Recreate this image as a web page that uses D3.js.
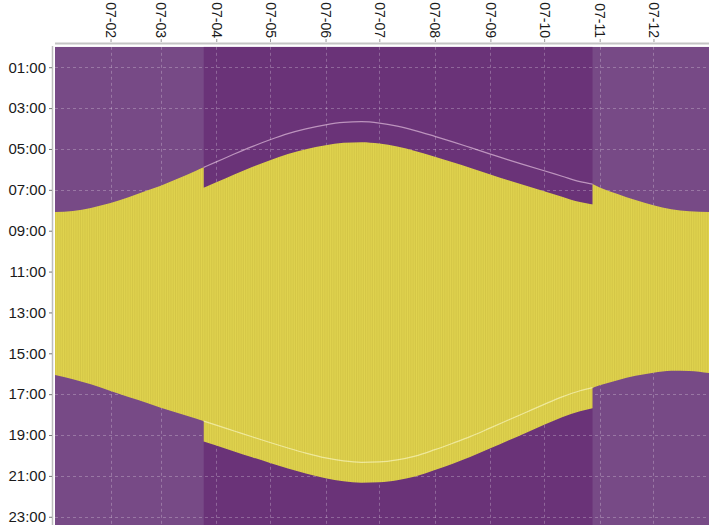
<!DOCTYPE html>
<html><head><meta charset="utf-8">
<script src="https://cdn.jsdelivr.net/npm/d3@7"></script>
<style>body{margin:0;background:#fff}svg{display:block}</style>
</head><body><svg id="c" width="720" height="525"></svg>
<script>
// ---- data (standard time) ----
const sampleDates = ["2007-01-01","2007-01-11","2007-01-21","2007-02-01","2007-02-11","2007-02-21","2007-03-01","2007-03-11","2007-03-21","2007-03-25","2007-04-01","2007-04-11","2007-04-21","2007-05-01","2007-05-11","2007-05-21","2007-06-01","2007-06-11","2007-06-21","2007-07-01","2007-07-11","2007-07-21","2007-08-01","2007-08-11","2007-08-21","2007-09-01","2007-09-11","2007-09-21","2007-10-01","2007-10-11","2007-10-21","2007-10-28","2007-11-01","2007-11-11","2007-11-21","2007-12-01","2007-12-11","2007-12-21","2008-01-01"];
const sunriseStd = ["8:05","8:02","7:53","7:39","7:22","7:03","6:48","6:26","6:03","5:54","5:38","5:15","4:53","4:33","4:15","4:01","3:49","3:42","3:40","3:44","3:53","4:06","4:23","4:39","4:56","5:15","5:32","5:48","6:04","6:20","6:36","6:43","6:53","7:12","7:30","7:45","7:57","8:03","8:05"];
const sunsetStd = ["16:04","16:16","16:31","16:51","17:08","17:25","17:40","17:56","18:12","18:19","18:31","18:48","19:05","19:22","19:38","19:53","20:07","20:16","20:20","20:19","20:13","20:02","19:43","19:24","19:04","18:39","18:16","17:53","17:30","17:08","16:50","16:41","16:34","16:19","16:06","15:57","15:51","15:52","15:58"];
const dstStart = "2007-03-25";
const dstEnd = "2007-10-28";
const yearStart = "2007-01-01";
const yearEnd = "2008-01-01";
const monthTicks = ["2007-02-01","2007-03-01","2007-04-01","2007-05-01","2007-06-01","2007-07-01","2007-08-01","2007-09-01","2007-10-01","2007-11-01","2007-12-01"];
const hourTicks = [1,3,5,7,9,11,13,15,17,19,21,23];
const hourLabels = ["01:00","03:00","05:00","07:00","09:00","11:00","13:00","15:00","17:00","19:00","21:00","23:00"];

// ---- setup ----
const parse = d3.timeParse("%Y-%m-%d");
const toH = s => { const [h, m] = s.split(":").map(Number); return h + m / 60; };
const rows = sampleDates.map((d, i) => ({ date: parse(d), rise: toH(sunriseStd[i]), set: toH(sunsetStd[i]) }));
const dS = parse(dstStart), dE = parse(dstEnd);

const L = 55, R = 709, T = 46.8, B = 537.2;
const x = d3.scaleTime().domain([parse(yearStart), parse(yearEnd)]).range([L, R]);
const y = d3.scaleLinear().domain([0, 24]).range([T, B]);

const svg = d3.select("#c");
const defs = svg.append("defs");
defs.append("clipPath").attr("id", "clip").append("rect")
  .attr("x", L).attr("y", T).attr("width", R - L).attr("height", B - T);
const dayW = x(parse("2007-01-02")) - x(parse("2007-01-01"));
const pat = defs.append("pattern").attr("id", "stripes").attr("patternUnits", "userSpaceOnUse")
  .attr("x", L).attr("y", 0).attr("width", dayW).attr("height", 10);
pat.append("rect").attr("width", dayW).attr("height", 10).attr("fill", "#e0d34e");
pat.append("rect").attr("width", dayW * 0.45).attr("height", 10).attr("fill", "#d3c545");

const plot = svg.append("g").attr("clip-path", "url(#clip)");

// backgrounds
plot.append("rect").attr("x", L).attr("y", T).attr("width", R - L).attr("height", B - T).attr("fill", "#774a86");
plot.append("rect").attr("x", x(dS)).attr("y", T).attr("width", x(dE) - x(dS)).attr("height", B - T).attr("fill", "#6a3378");

// grid
const grid = plot.append("g").attr("stroke", "rgba(255,255,255,0.25)").attr("stroke-dasharray", "3,3").attr("stroke-width", 1);
grid.selectAll(".gx").data(monthTicks).join("line")
  .attr("x1", d => Math.round(x(parse(d))) + 0.5).attr("x2", d => Math.round(x(parse(d))) + 0.5)
  .attr("y1", T).attr("y2", B);
grid.selectAll(".gy").data(hourTicks).join("line")
  .attr("y1", d => Math.round(y(d)) + 0.5).attr("y2", d => Math.round(y(d)) + 0.5)
  .attr("x1", L).attr("x2", R);

// daylight areas (three segments for the DST jumps)
const seg1 = rows.filter(r => r.date <= dS).map(r => ({ date: r.date, rise: r.rise, set: r.set }));
const seg2 = rows.filter(r => r.date >= dS && r.date <= dE).map(r => ({ date: r.date, rise: r.rise + 1, set: r.set + 1 }));
const seg3 = rows.filter(r => r.date >= dE).map(r => ({ date: r.date, rise: r.rise, set: r.set }));
const area = d3.area().curve(d3.curveMonotoneX)
  .x(d => x(d.date)).y0(d => y(d.rise)).y1(d => y(d.set));
const yellow = plot.append("g");
[seg1, seg2, seg3].forEach(s => {
  yellow.append("path").datum(s).attr("d", area).attr("fill", "url(#stripes)");
});
// cover the anti-aliasing seams where segments meet
[[seg1, seg2], [seg2, seg3]].forEach(([a, b]) => {
  const p = a[a.length - 1], q = b[0];
  const top = Math.max(p.rise, q.rise), bot = Math.min(p.set, q.set);
  yellow.append("rect").attr("x", x(q.date) - 1).attr("width", 2)
    .attr("y", y(top)).attr("height", y(bot) - y(top)).attr("fill", "url(#stripes)");
});

// standard-time reference lines during DST
const stdRows = rows.filter(r => r.date >= dS && r.date <= dE);
const lineRise = d3.line().curve(d3.curveMonotoneX).x(d => x(d.date)).y(d => y(d.rise));
const lineSet = d3.line().curve(d3.curveMonotoneX).x(d => x(d.date)).y(d => y(d.set));
plot.append("path").datum(stdRows).attr("d", lineRise).attr("fill", "none")
  .attr("stroke", "rgba(255,225,245,0.55)").attr("stroke-width", 1.2);
plot.append("path").datum(stdRows).attr("d", lineSet).attr("fill", "none")
  .attr("stroke", "rgba(255,255,220,0.55)").attr("stroke-width", 1.2);

// spines
svg.append("line").attr("x1", L).attr("x2", R).attr("y1", 43.5).attr("y2", 43.5)
  .attr("stroke", "#c4c4c4").attr("stroke-width", 2);
svg.append("line").attr("x1", 52.5).attr("x2", 52.5).attr("y1", 46).attr("y2", 525)
  .attr("stroke", "#bdbdbd").attr("stroke-width", 1.5);

// axes
const fmt = d3.timeFormat("%y-%m");
const xAxis = d3.axisTop(x).tickValues(monthTicks.map(parse)).tickFormat(fmt).tickSize(3).tickPadding(2);
const gx = svg.append("g").attr("transform", "translate(0,42)").call(xAxis);
gx.select(".domain").remove();
gx.selectAll(".tick line").attr("stroke", "#999");
gx.selectAll(".tick text")
  .attr("transform", "rotate(90)").attr("x", -4).attr("y", 0).attr("dy", "0.35em")
  .attr("text-anchor", "end").attr("fill", "#1a1a1a")
  .style("font-family", "'Liberation Sans', Arial, sans-serif").style("font-size", "14px");

const yAxis = d3.axisLeft(y).tickValues(hourTicks).tickFormat((d, i) => hourLabels[i]).tickSize(3).tickPadding(3);
const gy = svg.append("g").attr("transform", "translate(52,0)").call(yAxis);
gy.select(".domain").remove();
gy.selectAll(".tick line").attr("stroke", "#777");
gy.selectAll(".tick text").attr("fill", "#1a1a1a")
  .style("font-family", "'Liberation Sans', Arial, sans-serif").style("font-size", "15px");
</script>
</body></html>
